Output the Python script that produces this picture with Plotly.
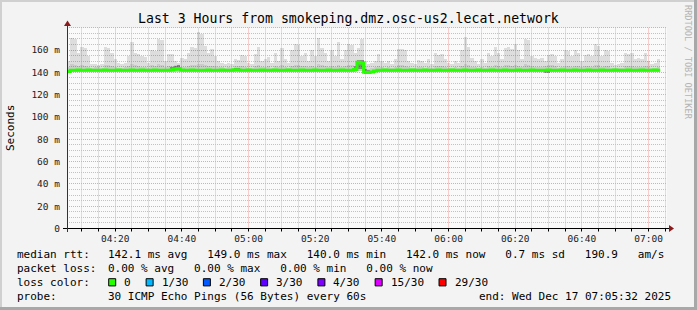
import plotly.graph_objects as go
import pandas as pd

# ---------------- data ----------------
sample_times = pd.date_range("2025-12-17 04:06:00", periods=178, freq="60s")

rtt_max = [
    150, 171, 170, 158, 163, 162, 155, 148, 148, 147,
    148, 163, 162, 158, 152, 149, 148, 149, 155, 167,
    158, 157, 155, 154, 149, 160, 159, 170, 169, 150,
    157, 157, 150, 149, 153, 152, 158, 163, 162, 176,
    175, 164, 158, 161, 155, 150, 149, 148, 149, 148,
    152, 151, 156, 155, 149, 148, 157, 163, 150, 152,
    154, 149, 158, 150, 162, 152, 149, 160, 166, 165,
    155, 158, 150, 160, 155, 171, 162, 158, 150, 160,
    155, 167, 152, 160, 166, 165, 158, 162, 170, 150,
    148, 149, 150, 157, 150, 149, 150, 148, 152, 161,
    161, 160, 150, 149, 148, 151, 150, 149, 152, 148,
    158, 156, 157, 152, 149, 148, 150, 149, 160, 172,
    163, 153, 150, 148, 152, 149, 158, 155, 163, 158,
    152, 162, 163, 161, 166, 160, 152, 170, 169, 155,
    153, 152, 153, 150, 156, 157, 155, 149, 152, 160,
    159, 155, 160, 158, 150, 156, 157, 155, 166, 164,
    155, 160, 159, 149, 147, 148, 149, 158, 157, 158,
    152, 153, 152, 158, 150, 148, 149, 152,
]

rtt_upper = [
    145, 148, 147, 146, 147, 146, 145, 144, 145, 145,
    144, 147, 147, 146, 145, 144, 144, 145, 146, 148,
    147, 146, 145, 145, 144, 147, 146, 148, 147, 145,
    146, 146, 147, 147, 145, 145, 146, 147, 147, 148,
    148, 147, 146, 146, 146, 145, 145, 144, 145, 144,
    146, 146, 146, 145, 144, 144, 146, 147, 145, 145,
    146, 144, 146, 145, 147, 145, 144, 146, 147, 147,
    146, 146, 145, 146, 145, 148, 147, 146, 145, 146,
    145, 147, 145, 146, 147, 147, 146, 150, 151, 146,
    143, 144, 145, 146, 145, 144, 145, 144, 145, 147,
    147, 146, 145, 144, 144, 145, 145, 144, 145, 144,
    146, 146, 146, 145, 144, 144, 145, 144, 146, 148,
    147, 145, 145, 144, 145, 144, 146, 145, 147, 146,
    145, 147, 147, 146, 147, 146, 145, 148, 147, 146,
    145, 145, 145, 146, 147, 147, 146, 144, 145, 146,
    146, 145, 146, 146, 145, 146, 146, 145, 147, 147,
    145, 146, 146, 144, 144, 144, 144, 146, 146, 146,
    145, 145, 145, 146, 145, 144, 144, 145,
]

rtt_min = [
    140.0, 140.6, 140.6, 140.6, 140.6, 140.6, 140.6, 140.6, 140.6, 140.6,
    140.6, 140.6, 140.6, 140.6, 140.6, 140.6, 140.6, 140.6, 140.6, 140.6,
    140.6, 140.6, 140.6, 140.6, 140.6, 140.6, 140.6, 140.6, 140.6, 140.6,
    140.6, 140.6, 140.6, 140.6, 140.6, 140.6, 140.6, 140.6, 140.6, 140.6,
    140.6, 140.6, 140.6, 140.6, 140.6, 140.6, 140.6, 140.6, 140.6, 140.6,
    140.6, 140.6, 140.6, 140.6, 140.6, 140.6, 140.6, 140.6, 140.6, 140.6,
    140.6, 140.6, 140.6, 140.6, 140.6, 140.6, 140.6, 140.6, 140.6, 140.6,
    140.6, 140.6, 140.6, 140.6, 140.6, 140.6, 140.6, 140.6, 140.6, 140.6,
    140.6, 140.6, 140.6, 140.6, 140.6, 140.6, 140.6, 141.0, 141.0, 138.8,
    138.8, 139.2, 140.2, 140.6, 140.6, 140.6, 140.6, 140.6, 140.6, 140.6,
    140.6, 140.6, 140.6, 140.6, 140.6, 140.6, 140.6, 140.6, 140.6, 140.6,
    140.6, 140.6, 140.6, 140.6, 140.6, 140.6, 140.6, 140.6, 140.6, 140.6,
    140.6, 140.6, 140.6, 140.6, 140.6, 140.6, 140.6, 140.6, 140.6, 140.6,
    140.6, 140.6, 140.6, 140.6, 140.6, 140.6, 140.6, 140.6, 140.6, 140.6,
    140.6, 140.6, 140.6, 140.6, 140.6, 140.6, 140.6, 140.6, 140.6, 140.6,
    140.6, 140.6, 140.6, 140.6, 140.6, 140.6, 140.6, 140.6, 140.6, 140.6,
    140.6, 140.6, 140.6, 140.6, 140.6, 140.6, 140.6, 140.6, 140.6, 140.6,
    140.6, 140.6, 140.6, 140.6, 140.6, 140.6, 140.6, 140.6,
]

rtt_median = [
    140.8, 142.0, 142.0, 142.1, 142.0, 142.0, 142.1, 142.0, 142.0, 142.0,
    142.0, 142.1, 142.0, 142.0, 142.0, 142.1, 142.0, 142.0, 142.0, 142.1,
    142.0, 142.0, 142.1, 142.0, 142.0, 142.0, 142.1, 142.0, 142.0, 142.0,
    142.0, 142.2, 142.8, 143.6, 142.1, 142.0, 142.0, 142.1, 142.0, 142.0,
    142.0, 142.0, 142.1, 142.0, 142.0, 142.0, 142.1, 142.0, 142.0, 142.0,
    142.3, 142.2, 142.0, 142.0, 142.1, 142.0, 142.0, 142.0, 142.1, 142.0,
    142.0, 142.0, 142.1, 142.0, 142.0, 142.0, 142.1, 142.0, 142.0, 142.0,
    142.1, 142.0, 142.0, 142.0, 142.1, 142.0, 142.0, 142.0, 142.1, 142.0,
    142.0, 142.0, 142.1, 142.0, 142.0, 142.0, 142.6, 149.0, 148.5, 140.2,
    140.0, 140.3, 141.2, 142.0, 142.0, 142.1, 142.0, 142.0, 142.0, 142.1,
    142.0, 142.0, 142.0, 142.1, 142.0, 142.0, 142.0, 142.1, 142.0, 142.0,
    142.0, 142.1, 142.0, 142.0, 142.0, 142.1, 142.0, 142.0, 142.0, 142.1,
    142.0, 142.0, 142.0, 142.1, 142.0, 142.0, 142.0, 142.1, 142.0, 142.0,
    142.0, 142.1, 142.0, 142.0, 142.0, 142.1, 142.0, 142.0, 142.0, 142.1,
    142.0, 142.0, 142.0, 142.0, 142.1, 142.0, 142.0, 142.0, 142.1, 142.0,
    142.0, 142.0, 142.1, 142.0, 142.0, 142.0, 142.1, 142.0, 142.0, 142.0,
    142.1, 142.0, 142.0, 142.0, 142.1, 142.0, 142.0, 142.0, 142.1, 142.0,
    142.0, 142.0, 142.1, 142.0, 142.0, 142.0, 142.1, 142.0,
]

# darker smoke spots (sample index, low, high)
dark_idx = [31, 32, 33, 50, 51, 86, 87, 88, 89, 90, 143, 144]
dark_lo = [142.0, 142.0, 142.0, 141.0, 141.0, 141.0, 143.0, 143.0, 139.0, 139.0, 140.0, 140.0]
dark_hi = [145.0, 146.0, 146.5, 144.0, 143.8, 146.0, 151.0, 151.0, 143.0, 142.0, 143.5, 143.5]

ytick_vals = [0, 20, 40, 60, 80, 100, 120, 140, 160]
ytick_text = ["0", "20 m", "40 m", "60 m", "80 m", "100 m", "120 m", "140 m", "160 m"]

title_text = "Last 3 Hours from smokeping.dmz.osc-us2.lecat.network"
legend_rtt = "142.1 ms avg   149.0 ms max   140.0 ms min   142.0 ms now   0.7 ms sd   190.9   am/s"
legend_loss = "0.00 % avg   0.00 % max   0.00 % min   0.00 % now"
loss_labels = ["0", "1/30", "2/30", "3/30", "4/30", "15/30", "29/30"]
loss_colors = ["#26ff00", "#00b8ff", "#0059ff", "#5e00ff", "#7e00ff", "#dd00ff", "#ff0000"]
probe_text = "30 ICMP Echo Pings (56 Bytes) every 60s"
end_text = "end: Wed Dec 17 07:05:32 2025"

# ---------------- geometry ----------------
W, H = 697, 310
PX0, PX1 = 67, 667          # plot area left/right in px
PY0, PY1 = 228.5, 27.8      # plot area bottom/top in px
Y_MAX = 180
FONT = "DejaVu Sans Mono"
X_START, X_END = pd.Timestamp("2025-12-17 04:05:32"), pd.Timestamp("2025-12-17 07:05:32")
GRID_MAJOR = "#f2a2a2"
GRID_MINOR = "#c2c2c2"


def fx(x):
    return x / W


def fy(y):
    return 1 - y / H


def t2px(t):
    return PX0 + (t - X_START) / (X_END - X_START) * (PX1 - PX0)


def v2px(v):
    return PY0 - v / Y_MAX * (PY0 - PY1)


def snap(p):
    return int(p) + 0.5


half = pd.Timedelta(seconds=30)

major_x = list(pd.date_range("2025-12-17 04:20:00", X_END, freq="20min"))
minor_x = [t for t in pd.date_range("2025-12-17 04:10:00", X_END, freq="5min") if t.minute % 20 != 0]
major_y = [v for v in range(20, Y_MAX + 1, 20)]
minor_y = [v for v in range(5, Y_MAX + 1, 5) if v % 20 != 0]

fig = go.Figure()

fig.add_trace(go.Bar(
    x=sample_times, y=[a - b for a, b in zip(rtt_max, rtt_min)], base=rtt_min,
    width=60000, marker=dict(color="rgba(0,0,0,0.115)", line=dict(width=0)), hoverinfo="skip"))
fig.add_trace(go.Bar(
    x=sample_times, y=[a - b for a, b in zip(rtt_upper, rtt_min)], base=rtt_min,
    width=60000, marker=dict(color="rgba(0,0,0,0.08)", line=dict(width=0)), hoverinfo="skip"))
fig.add_trace(go.Bar(
    x=[sample_times[i] for i in dark_idx], y=[h - l for h, l in zip(dark_hi, dark_lo)], base=dark_lo,
    width=60000, marker=dict(color="rgba(0,0,0,0.33)", line=dict(width=0)), hoverinfo="skip"))

edges = [t - half for t in sample_times] + [sample_times[-1] + half]
fig.add_trace(go.Scatter(
    x=edges, y=rtt_median + [rtt_median[-1]], mode="lines", line_shape="hv",
    line=dict(color="#26ff00", width=3), hoverinfo="skip"))

fig.update_layout(
    width=W, height=H, autosize=False,
    margin=dict(l=0, r=0, t=0, b=0, pad=0),
    paper_bgcolor="#f3f3f3", plot_bgcolor="#fafafa",
    showlegend=False, barmode="overlay", bargap=0,
    font=dict(family=FONT, color="#000000"),
)

fig.update_xaxes(
    type="date", domain=[fx(PX0), fx(PX1)], automargin=False,
    range=[X_START, X_END],
    tickmode="array", tickvals=major_x, tickformat="%H:%M",
    showgrid=False, ticks="", ticklabelstandoff=3,
    tickfont=dict(family=FONT, size=9.5, color="#222222"),
    showline=False, zeroline=False, fixedrange=True,
)
fig.update_yaxes(
    domain=[fy(PY0), fy(PY1)], range=[0, Y_MAX], automargin=False,
    tickmode="array", tickvals=ytick_vals, ticktext=ytick_text,
    showgrid=False, ticks="", ticklabelstandoff=6,
    tickfont=dict(family=FONT, size=9.5, color="#222222"),
    showline=False, zeroline=False, fixedrange=True,
)

shapes = []


def vline(xp, y0, y1, color, dash="1px,1px", layer="below"):
    shapes.append(dict(type="line", xref="paper", yref="paper", x0=fx(xp), x1=fx(xp),
                       y0=fy(y0), y1=fy(y1), line=dict(color=color, width=1, dash=dash), layer=layer))


def hline(yp, x0, x1, color, dash="1px,1px", layer="below"):
    shapes.append(dict(type="line", xref="paper", yref="paper", x0=fx(x0), x1=fx(x1),
                       y0=fy(yp), y1=fy(yp), line=dict(color=color, width=1, dash=dash), layer=layer))


# grid (pixel-snapped dotted lines, like rrdtool)
for v in minor_y:
    hline(snap(v2px(v)), PX0, PX1, GRID_MINOR)
for t in minor_x:
    vline(snap(t2px(t)), PY0, PY1, GRID_MINOR)
for v in major_y:
    hline(snap(v2px(v)), PX0, PX1, GRID_MAJOR)
for t in major_x:
    vline(snap(t2px(t)), PY0, PY1, GRID_MAJOR)
# x tick marks below axis
for t in minor_x + major_x:
    vline(snap(t2px(t)), PY0, PY0 + 3, "#000000", dash="solid", layer="above")

# frame
shapes.append(dict(type="rect", xref="paper", yref="paper", x0=0, x1=1, y0=fy(2), y1=1,
                   fillcolor="#d0d0d0", line=dict(width=0), layer="above"))
shapes.append(dict(type="rect", xref="paper", yref="paper", x0=0, x1=fx(2), y0=0, y1=1,
                   fillcolor="#d0d0d0", line=dict(width=0), layer="above"))
shapes.append(dict(type="rect", xref="paper", yref="paper", x0=fx(W - 3), x1=1, y0=0, y1=1,
                   fillcolor="#a8a8a8", line=dict(width=0), layer="above"))
shapes.append(dict(type="rect", xref="paper", yref="paper", x0=0, x1=1, y0=0, y1=fy(H - 3),
                   fillcolor="#a8a8a8", line=dict(width=0), layer="above"))
# axes lines
hline(snap(PY0), 63, 670, "#000000", dash="solid", layer="above")
vline(snap(PX0), 232, 23, "#333333", dash="solid", layer="above")
# arrows
AY = snap(PY0)
AX = snap(PX0)
shapes.append(dict(type="path", xref="paper", yref="paper",
                   path=f"M {fx(669)} {fy(AY - 3.5)} L {fx(674)} {fy(AY)} L {fx(669)} {fy(AY + 3.5)} Z",
                   fillcolor="#8b1a1a", line=dict(width=0), layer="above"))
shapes.append(dict(type="path", xref="paper", yref="paper",
                   path=f"M {fx(AX - 3.5)} {fy(26)} L {fx(AX)} {fy(20.5)} L {fx(AX + 3.5)} {fy(26)} Z",
                   fillcolor="#8b1a1a", line=dict(width=0), layer="above"))

annotations = []


def txt(x, y, s, size=11, anchor="left", color="#000000", angle=0):
    annotations.append(dict(xref="paper", yref="paper", x=fx(x), y=fy(y), text=s,
                            showarrow=False, xanchor=anchor, yanchor="middle", textangle=angle,
                            font=dict(family=FONT, size=size, color=color), borderpad=0))


txt(348.5, 19, title_text, size=13.2, anchor="center")
txt(11, 128, "Seconds", size=11, anchor="center", angle=-90)
txt(688, 62, "RRDTOOL / TOBI OETIKER", size=8.6, anchor="center", color="#b4b4b4", angle=90)

ROW = [254.5, 268.3, 282.3, 296.0]
LX, VX = 16, 107.3
txt(LX, ROW[0], "median rtt:".replace(" ", "&nbsp;"))
txt(VX, ROW[0], legend_rtt.replace(" ", "&nbsp;"))
txt(LX, ROW[1], "packet loss:".replace(" ", "&nbsp;"))
txt(VX, ROW[1], legend_loss.replace(" ", "&nbsp;"))
txt(LX, ROW[2], "loss color:".replace(" ", "&nbsp;"))
cw = 6.615
sx = 108.7
for lab, col in zip(loss_labels, loss_colors):
    shapes.append(dict(type="rect", xref="paper", yref="paper", x0=fx(sx), x1=fx(sx + 7),
                       y0=fy(ROW[2] + 3.6), y1=fy(ROW[2] - 3.6), fillcolor=col,
                       line=dict(color="#000000", width=1), layer="above"))
    txt(sx + 14.6, ROW[2], lab.replace(" ", "&nbsp;"))
    sx = sx + 14.6 + len(lab) * cw + 16.2
txt(LX, ROW[3], "probe:")
txt(VX, ROW[3], probe_text.replace(" ", "&nbsp;"))
txt(478.3, ROW[3], end_text.replace(" ", "&nbsp;"))

fig.update_layout(shapes=shapes, annotations=annotations)
fig.write_html("out.html")
